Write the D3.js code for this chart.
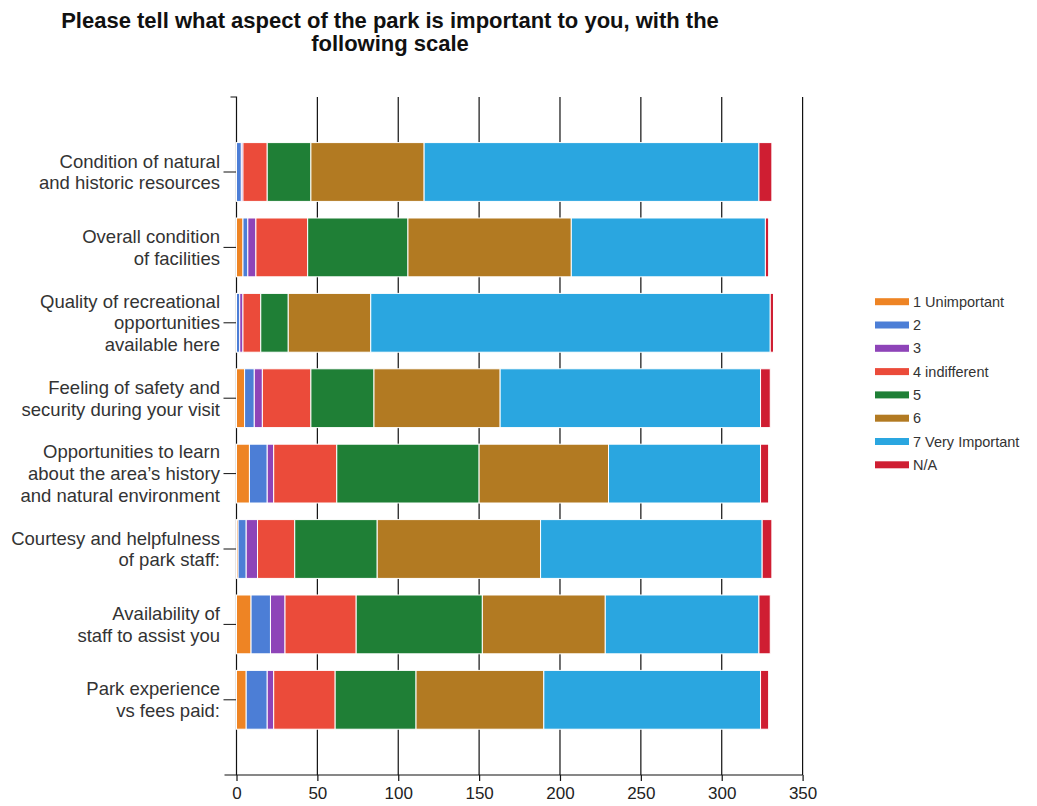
<!DOCTYPE html>
<html>
<head>
<meta charset="utf-8">
<script src="https://cdn.jsdelivr.net/npm/d3@7"></script>
<style>
  body { margin: 0; background: #fff; }
  text { font-family: "Liberation Sans", Arial, sans-serif; }
</style>
</head>
<body>
<div id="CHART"></div>
<script>
// ------------------------- DATA ------------------------//

var categories = [
  ["Condition of natural", "and historic resources"],
  ["Overall condition", "of facilities"],
  ["Quality of recreational", "opportunities", "available here"],
  ["Feeling of safety and", "security during your visit"],
  ["Opportunities to learn", "about the area\u2019s history", "and natural environment"],
  ["Courtesy and helpfulness", "of park staff:"],
  ["Availability of", "staff to assist you"],
  ["Park experience", "vs fees paid:"]
];

var seriesNames = ["1 Unimportant", "2", "3", "4 indifferent", "5", "6", "7 Very Important", "N/A"];
var seriesColors = ["#EE8424", "#4C7ED6", "#8E44B8", "#EB4B3A", "#1F7F36", "#B27A22", "#2AA6E0", "#CF1E32"];

var unimportant1 = [0, 4, 0, 5, 8, 1, 9, 6];
var scale2 = [3, 3, 2, 6, 11, 5, 12, 13];
var scale3 = [1, 5, 2, 5, 4, 7, 9, 4];
var indifferent4 = [15, 32, 11, 30, 39, 23, 44, 38];
var scale5 = [27, 62, 17, 39, 88, 51, 78, 50];
var scale6 = [70, 101, 51, 78, 80, 101, 76, 79];
var veryImportant7 = [207, 120, 247, 161, 94, 137, 95, 134];
var notApplicable = [8, 2, 2, 6, 5, 6, 7, 5];

var xTicks = [0, 50, 100, 150, 200, 250, 300, 350];

var seriesValues = [unimportant1, scale2, scale3, indifferent4, scale5, scale6, veryImportant7, notApplicable];

var rows = categories.map(function (c, i) {
  var r = { idx: i };
  seriesNames.forEach(function (s, j) { r[s] = seriesValues[j][i]; });
  return r;
});

// ------------------------- svg init ------------------------//

var width = 1037,
  height = 806;

var svg = d3.select("#CHART").append("svg")
  .attr("width", width)
  .attr("height", height);

var plotTop = 97, plotBottom = 775;

var x = d3.scaleLinear()
  .domain([0, 350])
  .range([236.5, 802.6]);

var y = d3.scaleBand()
  .domain(d3.range(categories.length))
  .range([134.3, 737.5])
  .paddingInner(0.22)
  .paddingOuter(0.11);

// title
svg.append("g")
  .selectAll("text")
  .data(["Please tell what aspect of the park is important to you, with the", "following scale"])
  .enter().append("text")
  .attr("x", 390)
  .attr("y", function (d, i) { return 28 + i * 23; })
  .attr("text-anchor", "middle")
  .attr("font-size", 22)
  .attr("font-weight", "bold")
  .attr("fill", "#111")
  .text(function (d) { return d; });

// ---------------------------- grid + axes ------------------------//

svg.append("g")
  .selectAll("line")
  .data(xTicks.slice(1))
  .enter().append("line")
  .attr("x1", function (d) { return x(d); })
  .attr("x2", function (d) { return x(d); })
  .attr("y1", plotTop)
  .attr("y2", plotBottom)
  .attr("stroke", "#111")
  .attr("stroke-width", 1.2);

var xAxis = svg.append("g")
  .attr("transform", "translate(0," + plotBottom + ")")
  .call(d3.axisBottom(x)
    .tickValues(xTicks)
    .tickSize(6)
    .tickSizeOuter(0)
    .tickPadding(6));
xAxis.select(".domain").remove();
xAxis.selectAll("line").attr("stroke", "#111").attr("stroke-width", 1.2);
xAxis.selectAll("text")
  .attr("font-size", 17)
  .attr("fill", "#222")
  .attr("font-family", "Liberation Sans, Arial, sans-serif");

svg.append("line")
  .attr("x1", x(0) - 12)
  .attr("x2", x(350))
  .attr("y1", plotBottom)
  .attr("y2", plotBottom)
  .attr("stroke", "#111")
  .attr("stroke-width", 1.2);

// y axis
svg.append("path")
  .attr("d", "M" + (x(0) - 6) + "," + plotTop + "H" + x(0) + "V" + plotBottom)
  .attr("fill", "none")
  .attr("stroke", "#111")
  .attr("stroke-width", 1.2);

svg.append("g")
  .selectAll("line")
  .data(d3.range(categories.length))
  .enter().append("line")
  .attr("x1", x(0) - 13)
  .attr("x2", x(0))
  .attr("y1", function (d) { return y(d) + y.bandwidth() / 2; })
  .attr("y2", function (d) { return y(d) + y.bandwidth() / 2; })
  .attr("stroke", "#111")
  .attr("stroke-width", 1);

var labels = svg.append("g")
  .selectAll("text")
  .data(categories)
  .enter().append("text")
  .attr("text-anchor", "end")
  .attr("font-size", 18.5)
  .attr("fill", "#333");

labels.selectAll("tspan")
  .data(function (d, i) {
    return d.map(function (line, k) { return { line: line, k: k, n: d.length, i: i }; });
  })
  .enter().append("tspan")
  .attr("x", 220)
  .attr("y", function (d) { return y(d.i) + y.bandwidth() / 2 + (d.k - (d.n - 1) / 2) * 21.7; })
  .attr("dy", "0.35em")
  .text(function (d) { return d.line; });

// ---------------------------- bars ------------------------//

var stacked = d3.stack().keys(seriesNames)(rows);

svg.append("g")
  .selectAll("g")
  .data(stacked)
  .enter().append("g")
  .attr("fill", function (d, i) { return seriesColors[i]; })
  .selectAll("rect")
  .data(function (d) { return d; })
  .enter().append("rect")
  .attr("x", function (d) { return x(d[0]); })
  .attr("y", function (d) { return y(d.data.idx); })
  .attr("width", function (d) { return Math.max(0, x(d[1]) - x(d[0])); })
  .attr("height", y.bandwidth())
  .attr("stroke", "#fff")
  .attr("stroke-width", function (d) { return d[1] > d[0] ? 1 : 0; });

// ---------------------------- legend ------------------------//

var legend = svg.append("g")
  .selectAll("g")
  .data(seriesNames)
  .enter().append("g")
  .attr("transform", function (d, i) { return "translate(875," + (301.7 + i * 23.3) + ")"; });

legend.append("rect")
  .attr("x", 0)
  .attr("y", -3.5)
  .attr("width", 34)
  .attr("height", 7)
  .attr("fill", function (d, i) { return seriesColors[i]; });

legend.append("text")
  .attr("x", 38)
  .attr("dy", "0.35em")
  .attr("font-size", 14.5)
  .attr("fill", "#333")
  .text(function (d) { return d; });
</script>
</body>
</html>
